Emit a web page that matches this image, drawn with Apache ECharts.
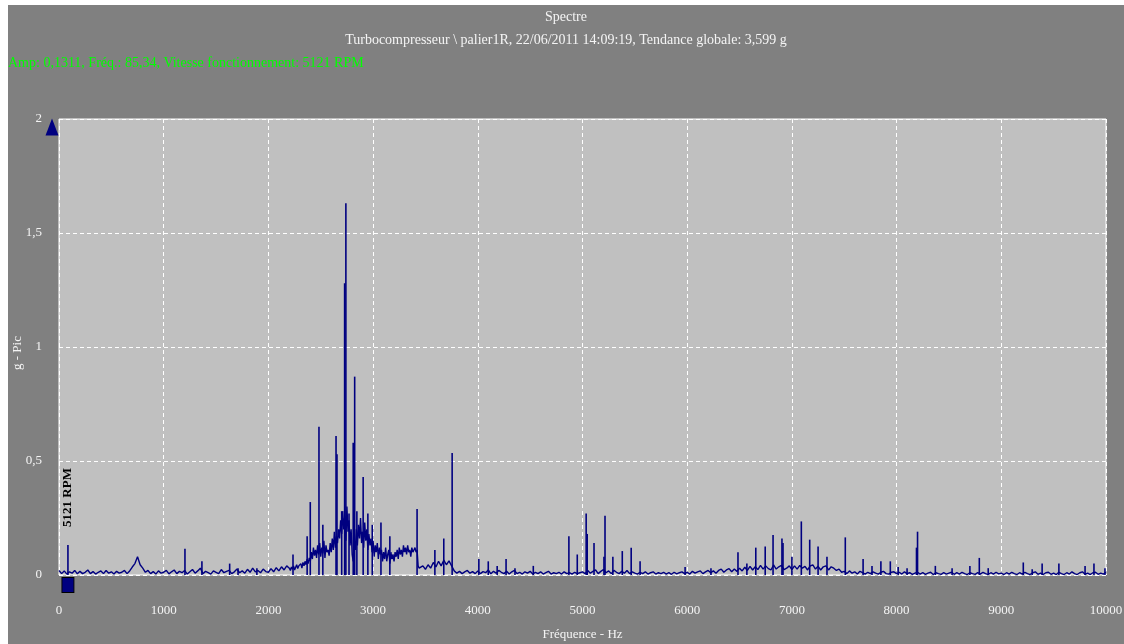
<!DOCTYPE html>
<html>
<head>
<meta charset="utf-8">
<script src="https://cdn.jsdelivr.net/npm/echarts@6/dist/echarts.min.js"></script>
<style>
  html, body { margin: 0; padding: 0; background: #ffffff; }
  #chart { position: absolute; left: 8px; top: 5px; width: 1116px; height: 639px; }
</style>
</head>
<body>
<div id="chart"></div>
<script>
// Spectrum noise floor (g peak), stored as bands: each band has a start frequency and step
const floor0k = [0.02,0.006,0.018,0.004,0.014,0.008,0.02,0.005,0.016,0.006, 0.012,0.022,0.006,0.015,0.004,0.012,0.018,0.006,0.02,0.008, 0.014,0.004,0.016,0.008,0.012,0.02,0.006,0.018,0.035,0.05, 0.08,0.045,0.03,0.012,0.02,0.006,0.015,0.004,0.018,0.008];
const floor1k = [0.012,0.02,0.005,0.014,0.022,0.006,0.016,0.01,0.02,0.004, 0.014,0.024,0.008,0.018,0.03,0.006,0.016,0.01,0.004,0.018, 0.012,0.006,0.024,0.01,0.016,0.02,0.006,0.014,0.026,0.01, 0.018,0.008,0.025,0.012,0.03,0.014,0.02,0.01,0.026,0.015];
const floorRise = [0.012,0.028,0.014,0.032,0.018,0.036,0.022,0.04];
const floorCluster = [
  0.03,0.02,0.035,0.025,0.04,0.022,0.03,0.045,0.028,0.04,
  0.035,0.05,0.03,0.055,0.04,0.06,0.045,0.07,0.05,0.075,
  0.06,0.1,0.07,0.12,0.085,0.11,0.075,0.13,0.09,0.14,
  0.08,0.12,0.095,0.15,0.075,0.13,0.1,0.11,0.085,0.14,
  0.1,0.16,0.11,0.19,0.12,0.17,0.14,0.2,0.16,0.24,
  0.18,0.28,0.2,0.26,0.15,0.3,0.19,0.24,0.13,0.2,
  0.09,0.06,0.15,0.11,0.2,0.13,0.22,0.16,0.25,0.14,
  0.19,0.12,0.23,0.15,0.2,0.11,0.18,0.13,0.16,0.1,
  0.15,0.08,0.13,0.1,0.14,0.07,0.12,0.09,0.11,0.06,
  0.1,0.07,0.12,0.06,0.09,0.11,0.05,0.1,0.07,0.09,
  0.06,0.1,0.08,0.11,0.07,0.12,0.09,0.11,0.08,0.13,
  0.1,0.12,0.09,0.13,0.1,0.11,0.08,0.12,0.1,0.11,
  0.12,0.1,0.11,0.04,0.03,0.025
];
const floorTail = [0.04,0.025,0.045,0.03,0.055,0.035,0.06,0.04,0.065,0.045,0.062,0.04,0.018,0.008,0.016,0.006,0.014,0.02,0.008,0.015,0.006];
const floor4k = [0.018,0.006,0.015,0.01,0.022,0.005,0.016,0.008,0.02,0.012, 0.006,0.016,0.004,0.014,0.02,0.006,0.012,0.004,0.014,0.008, 0.016,0.004,0.012,0.006,0.014,0.004,0.01,0.016,0.004,0.01, 0.006,0.012,0.004,0.014,0.006,0.01,0.004,0.012,0.006,0.01];
const floor5k = [0.014,0.006,0.02,0.008,0.016,0.022,0.006,0.016,0.024,0.01, 0.018,0.006,0.02,0.012,0.006,0.016,0.008,0.02,0.006,0.014, 0.008,0.004,0.012,0.006,0.014,0.004,0.01,0.014,0.004,0.01, 0.006,0.012,0.004,0.01,0.003,0.012,0.005,0.01,0.014,0.006];
const floor6k = [0.012,0.004,0.016,0.008,0.014,0.018,0.006,0.014,0.02,0.01, 0.018,0.008,0.02,0.026,0.012,0.022,0.028,0.014,0.026,0.016, 0.03,0.018,0.034,0.02,0.038,0.022,0.036,0.024,0.042,0.026, 0.04,0.028,0.022,0.044,0.026,0.036,0.042,0.024,0.03,0.04];
const floor7k = [0.024,0.04,0.026,0.042,0.03,0.038,0.022,0.04,0.044,0.026, 0.038,0.022,0.036,0.04,0.022,0.036,0.03,0.02,0.026,0.012, 0.016,0.006,0.018,0.008,0.014,0.004,0.016,0.01,0.004,0.012, 0.006,0.014,0.008,0.004,0.012,0.016,0.006,0.004,0.012,0.014];
const floor8k = [0.006,0.012,0.004,0.014,0.006,0.01,0.003,0.008,0.012,0.004, 0.01,0.003,0.008,0.012,0.002,0.01,0.006,0.003,0.01,0.004, 0.008,0.012,0.003,0.01,0.004,0.012,0.006,0.002,0.01,0.006, 0.003,0.01,0.004,0.012,0.006,0.002,0.01,0.004,0.012,0.005];
const floor9k = [0.008,0.002,0.01,0.004,0.012,0.006,0.002,0.01,0.004,0.012, 0.006,0.002,0.01,0.014,0.003,0.008,0.002,0.01,0.012,0.003, 0.008,0.002,0.012,0.006,0.002,0.01,0.004,0.014,0.006,0.002, 0.01,0.014,0.003,0.008,0.002,0.01,0.012,0.003,0.008,0.004,0.012];

// [start Hz, step Hz, values]
const floorBands = [
  [0, 25, floor0k], [1000, 25, floor1k], [2000, 25, floorRise], [2200, 10, floorCluster],
  [3475, 25, floorTail], [4000, 25, floor4k], [5000, 25, floor5k], [6000, 25, floor6k],
  [7000, 25, floor7k], [8000, 25, floor8k], [9000, 25, floor9k]
];

// Discrete spectral lines: [frequency Hz, amplitude g]
const peaks = [
  [85.34,0.1311],[1203,0.115],[1365,0.06],[1630,0.05],[1710,0.03],[1890,0.03],
  [2235,0.09],[2370,0.17],[2400,0.32],[2483,0.65],[2520,0.22],[2646,0.61],[2655,0.53],
  [2700,0.28],[2728,1.28],[2740,1.63],[2770,0.27],[2810,0.58],[2824,0.87],[2845,0.28],
  [2905,0.43],[2950,0.27],[2992,0.22],[3075,0.23],[3160,0.17],[3420,0.29],
  [3590,0.11],[3675,0.16],[3755,0.535],
  [4010,0.07],[4100,0.06],[4185,0.04],[4270,0.07],[4355,0.03],[4530,0.04],
  [4870,0.17],[4950,0.09],[5035,0.27],[5045,0.18],[5110,0.14],[5205,0.08],[5215,0.26],
  [5290,0.08],[5380,0.105],[5465,0.12],[5550,0.06],[5980,0.035],
  [6227,0.03],[6485,0.1],[6570,0.05],[6655,0.12],[6745,0.125],[6820,0.175],[6905,0.16],[6915,0.14],
  [7000,0.08],[7090,0.235],[7170,0.155],[7250,0.125],[7335,0.08],[7510,0.165],
  [7680,0.07],[7765,0.04],[7850,0.06],[7940,0.06],[8015,0.035],[8100,0.03],[8190,0.12],[8200,0.19],
  [8370,0.04],[8530,0.03],[8700,0.04],[8790,0.075],[8875,0.03],
  [9210,0.055],[9295,0.025],[9390,0.05],[9550,0.05],[9800,0.04],[9885,0.05],[9990,0.03]
];

// Running-speed cursor
const rpmHz = 85.34;
const rpmLabel = '5121 RPM';

const titleText = 'Spectre';
const subtitleText = 'Turbocompresseur \\ palier1R, 22/06/2011 14:09:19, Tendance globale: 3,599 g';
const cursorText = 'Amp: 0,1311, Fréq.: 85,34, Vitesse fonctionnement: 5121 RPM';
const xAxisTitle = 'Fréquence - Hz';
const yAxisTitle = 'g - Pic';

const FONT = '"Liberation Serif", "DejaVu Serif", serif';
const NAVY = '#000080';
const LIGHT = '#f4f4f4';

const floorData = [];
floorBands.forEach(([start, step, values]) => {
  values.forEach((v, i) => floorData.push([start + i * step, v]));
});

const chart = echarts.init(document.getElementById('chart'));
chart.setOption({
  backgroundColor: '#808080',
  animation: false,
  graphic: [
    { type: 'text', left: 'center', top: 5,
      style: { text: titleText, fill: LIGHT, font: '14px ' + FONT } },
    { type: 'text', left: 'center', top: 28,
      style: { text: subtitleText, fill: LIGHT, font: '14px ' + FONT } },
    { type: 'text', left: 0, top: 51,
      style: { text: cursorText, fill: '#00ff00', font: '14px ' + FONT } },
    { type: 'text', x: 10, y: 348, rotation: Math.PI / 2,
      style: { text: yAxisTitle, fill: LIGHT, font: '13px ' + FONT,
               textAlign: 'center', textVerticalAlign: 'middle' } }
  ],
  grid: {
    left: 51, right: 18, top: 114, bottom: 69,
    outerBoundsMode: 'none', containLabel: false,
    show: true, backgroundColor: '#c0c0c0', borderColor: '#ffffff', borderWidth: 1
  },
  xAxis: {
    type: 'value', min: 0, max: 10000, interval: 1000,
    name: xAxisTitle, nameLocation: 'middle', nameGap: 53,
    nameTextStyle: { color: LIGHT, fontFamily: FONT, fontSize: 13 },
    axisLine: { show: false }, axisTick: { show: false },
    axisLabel: { color: LIGHT, fontFamily: FONT, fontSize: 13, margin: 29,
      formatter: v => String(v) },
    splitLine: { show: true, lineStyle: { color: '#ffffff', type: [4, 3], width: 1 } }
  },
  yAxis: {
    type: 'value', min: 0, max: 2, interval: 0.5,
    axisLine: { show: false }, axisTick: { show: false },
    axisLabel: { color: LIGHT, fontFamily: FONT, fontSize: 13, margin: 17,
      formatter: v => String(v).replace('.', ',') },
    splitLine: { show: true, lineStyle: { color: '#ffffff', type: [4, 3], width: 1 } }
  },
  series: [
    {
      type: 'bar', data: peaks, barWidth: 1.6, barGap: '-100%',
      itemStyle: { color: NAVY }, silent: true
    },
    {
      type: 'line', data: floorData, symbol: 'none', silent: true,
      lineStyle: { color: NAVY, width: 1.4 },
      markPoint: {
        silent: true,
        data: [
          { coord: [0, 2], symbol: 'triangle', symbolSize: [13, 17], symbolOffset: [-7, 8],
            itemStyle: { color: NAVY }, label: { show: false } },
          { coord: [rpmHz, 0], symbol: 'rect', symbolSize: [12, 15], symbolOffset: [0, 10],
            itemStyle: { color: NAVY, borderColor: '#000000', borderWidth: 1 }, label: { show: false } },
          { coord: [rpmHz, 0.34], symbol: 'rect', symbolSize: 1,
            itemStyle: { color: 'rgba(0,0,0,0)' },
            label: { show: true, position: 'inside', rotate: 90, formatter: rpmLabel,
              color: '#000000', fontFamily: FONT, fontSize: 13, fontWeight: 'bold' } }
        ]
      }
    }
  ]
});
</script>
</body>
</html>
